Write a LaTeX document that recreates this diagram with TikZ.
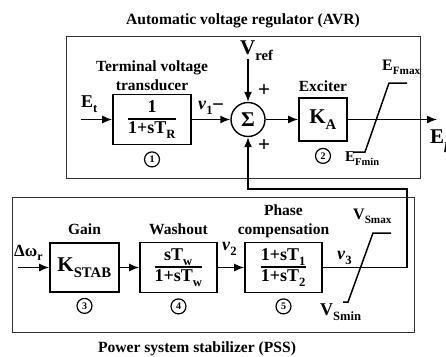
\documentclass[tikz,border=0pt]{standalone}
\usepackage{fontspec}
\setmainfont{Liberation Serif}
\usetikzlibrary{arrows.meta,positioning}
\setlength{\arrayrulewidth}{1.2pt}
\newcommand{\dn}[1]{\raisebox{-0.3ex}{\textsubscript{#1}}}
\newcommand{\fracbox}[2]{\renewcommand{\arraystretch}{0.95}\begin{tabular}{@{}c@{}}#1\\[1pt]\hline\noalign{\vskip 2pt}#2\end{tabular}}
\newcommand{\fs}[1]{\fontsize{#1}{#1}\selectfont}

\begin{document}
\begin{tikzpicture}[x=1pt, y=-1pt,
  node distance=4pt,
  block/.style={draw, line width=1.6pt, minimum width=#1, minimum height=50pt, inner sep=0pt, font=\bfseries\fs{18}},
  block/.default=77pt,
  sumnode/.style={draw, circle, line width=1.4pt, minimum size=34pt, inner sep=0pt, font=\bfseries\fs{21}},
  tag/.style={draw, circle, line width=1.2pt, minimum size=15pt, inner sep=0pt, font=\bfseries\fs{10}},
  title/.style={font=\bfseries\fs{15.6}},
  lbl/.style={align=center, inner sep=0pt, font=\bfseries\fontsize{15.5}{19}\selectfont},
  sig/.style={anchor=base west, inner sep=0pt, font=\bfseries\fs{#1}},
  sig/.default=17,
  sign/.style={inner sep=0pt, font=\bfseries\fs{21}},
  frame/.style={draw=black!80, line width=1pt},
  wire/.style={line width=1.5pt},
  arrow/.style={-{Latex[length=10pt,width=8pt]}, line width=1.5pt}
]
\useasboundingbox (0,0) rectangle (446,356);
% frames and titles
\draw[frame] (66,36) rectangle (420,178);
\draw[frame] (12,197) rectangle (414,332);
\node[title] (avrt) at (243,21) {Automatic voltage regulator (AVR)};
\node[title] (psst) at (197,349) {Power system stabilizer (PSS)};
% AVR blocks
\node[block=78pt] (tr) at (152,119.5) {\fracbox{1}{1+sT\dn{R}}};
\node[sumnode] (sum) at (248,119.5) {Σ};
\node[block=48pt, minimum height=43pt, font=\bfseries\fs{21}] (ex) at (323,119.5) {K\dn{A}};
\node[tag, below=6pt of tr] (t1) {1};
\node[tag, below=6pt of ex] (t2) {2};
\node[lbl, above=3pt of tr] (trl) {Terminal voltage\\transducer};
\node[lbl, above=5pt of ex] (exl) {Exciter};
% PSS blocks
\node[block=69pt, minimum height=49pt, font=\bfseries\fs{21}] (gain) at (84.5,267.5) {K\dn{STAB}};
\node[block] (wo) at (178.5,267.5) {\fracbox{sT\dn{w}}{1+sT\dn{w}}};
\node[block] (pc) at (283.5,267.5) {\fracbox{1+sT\dn{1}}{1+sT\dn{2}}};
\node[tag, below=5pt of gain] (t3) {3};
\node[tag, below=5pt of wo] (t4) {4};
\node[tag, below=5pt of pc] (t5) {5};
\node[lbl, above=7pt of gain] (gainl) {Gain};
\node[lbl, above=7pt of wo] (wol) {Washout};
\node[lbl, above=4pt of pc] (pcl) {Phase\\compensation};
% signal ends
\coordinate (etin) at (81,119.5);
\coordinate (vrefin) at (248,59);
\coordinate (efd) at (437,119.5);
\coordinate (dwin) at (18,267.5);
\coordinate (fbr) at (407,189);
% connectors
\draw[arrow] (etin) -- (tr);
\draw[arrow] (tr) -- (sum);
\draw[arrow] (vrefin) -- (sum);
\draw[arrow] (sum) -- (ex);
\draw[arrow] (ex) -- (efd);
\draw[arrow] (dwin) -- (gain);
\draw[arrow] (gain) -- (wo);
\draw[arrow] (wo) -- (pc);
\draw[arrow] (pc.east) -- (fbr |- pc.east) -- (fbr) -| (sum.south);
% limiters
\draw[wire] (353,152) -- (365,152) -- (389,83) -- (407,83);
\draw[wire] (343,302) -- (348,302) -- (373,233) -- (391,233);
% signal labels
\node[sig=18] (etl) at (81,107) {E\dn{t}};
\node[sig=21] (vrefl) at (240,54) {V\dn{ref}};
\node[sig=18] (v1l) at (198,109) {\textit{v}\dn{1}};
\node[sign] (minus) at (218,108) {−};
\node[sign] (plus1) at (264,91) {+};
\node[sign] (plus2) at (264,146) {+};
\node[sig=21] (efdl) at (430,143) {E\dn{\textit{fd}}};
\node[sig=16] (efmax) at (382,70) {E\dn{Fmax}};
\node[sig=15] (efmin) at (345,161) {E\dn{Fmin}};
\node[sig=17] (dwl) at (14,256) {Δω\dn{r}};
\node[sig=18] (v2l) at (222,250) {\textit{v}\dn{2}};
\node[sig=18] (v3l) at (337,259) {\textit{v}\dn{3}};
\node[sig=16] (vsmax) at (353,219) {V\dn{Smax}};
\node[sig=18] (vsmin) at (320,315) {V\dn{Smin}};
\end{tikzpicture}
\end{document}
